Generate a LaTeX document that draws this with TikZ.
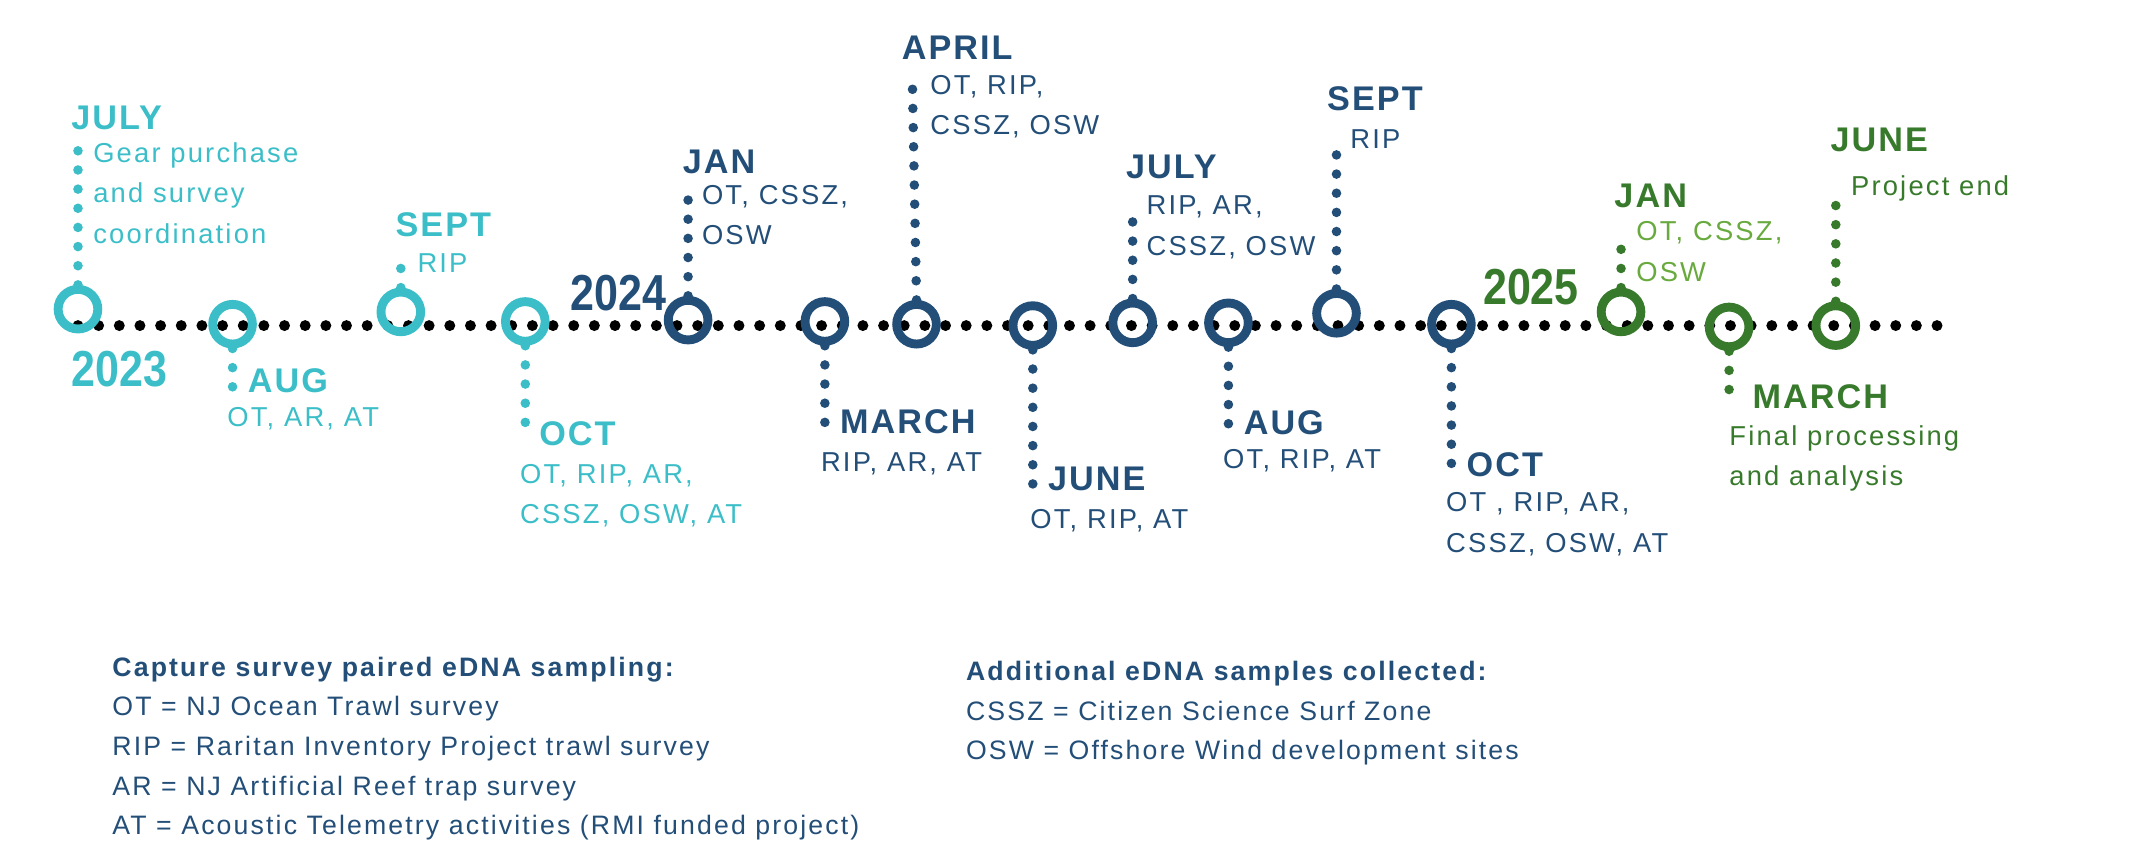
\documentclass[tikz,border=0pt]{standalone}
\usepackage{fontspec}
\setmainfont{Liberation Sans}
\newfontfamily\spaced[LetterSpace=6]{Liberation Sans}
\newfontfamily\wide[LetterSpace=8]{Liberation Sans}
\definecolor{teal23}{RGB}{59,190,200}
\definecolor{navy24}{RGB}{35,78,120}
\definecolor{green25}{RGB}{56,122,44}
\definecolor{lgreen25}{RGB}{104,170,62}
\tikzset{
  ring/.style={circle,draw=#1,line width=6.5pt,minimum size=29pt,inner sep=0pt},
  stem/.style={draw=#1,line width=7pt,line cap=round,dash pattern=on 0pt off 14pt},
  month/.style={anchor=west,inner sep=0pt,text=#1,font=\spaced\fontsize{25}{25}\selectfont\bfseries},
  items/.style={anchor=west,inner sep=0pt,text=#1,font=\wide\fontsize{20}{29.5}\selectfont,align=left},
  year/.style={inner sep=0pt,text=#1,font=\fontsize{37}{37}\selectfont\bfseries,xscale=0.85},
  legend/.style={anchor=north west,inner sep=0pt,text=navy24,font=\wide\fontsize{19.5}{29}\selectfont,align=left}
}
\begin{document}
\begin{tikzpicture}[x=1pt,y=-1pt]
\useasboundingbox (0,0) rectangle (1560,632);
% main time line
\coordinate (start) at (57,238);
\coordinate (stop) at (1420,238);
\draw [line width=8pt,line cap=round,dash pattern=on 0pt off 15.1pt] (start) -- (stop);
% 2023
\node [ring=teal23] (jul23) at (57,226) {};
\node [ring=teal23] (aug23) at (170,237) {};
\node [ring=teal23] (sep23) at (293,228) {};
\node [ring=teal23] (oct23) at (384,235) {};
\coordinate (jul23t) at (57,106);
\coordinate (aug23b) at (170,292);
\coordinate (sep23t) at (293,189);
\coordinate (oct23b) at (384,320);
\draw [stem=teal23] (jul23.north) -- (jul23t);
\draw [stem=teal23] (aug23.south) -- (aug23b);
\draw [stem=teal23] (sep23.north) -- (sep23t);
\draw [stem=teal23] (oct23.south) -- (oct23b);
\node [month=teal23] (jul23m) at (52,86) {JULY};
\node [items=teal23,anchor=north west] (jul23i) at (68,104) {Gear purchase\\and survey\\coordination};
\node [month=teal23] (aug23m) at (181,278) {AUG};
\node [items=teal23] (aug23i) at (166,306) {OT, AR, AT};
\node [month=teal23] (sep23m) at (289,164) {SEPT};
\node [items=teal23] (sep23i) at (305,192) {RIP};
\node [month=teal23] (oct23m) at (394,317) {OCT};
\node [items=teal23,anchor=north west] (oct23i) at (380,339) {OT, RIP, AR,\\CSSZ, OSW, AT};
\node [year=teal23,anchor=west] (y23) at (52,270) {2023};
% 2024
\node [ring=navy24] (jan24) at (503,234) {};
\node [ring=navy24] (mar24) at (603,235) {};
\node [ring=navy24] (apr24) at (670,237) {};
\node [ring=navy24] (jun24) at (755,238) {};
\node [ring=navy24] (jul24) at (828,236) {};
\node [ring=navy24] (aug24) at (898,236) {};
\node [ring=navy24] (sep24) at (977,229) {};
\node [ring=navy24] (oct24) at (1061,237) {};
\coordinate (jan24t) at (503,145);
\coordinate (mar24b) at (603,318);
\coordinate (apr24t) at (667,62);
\coordinate (jun24b) at (755,358);
\coordinate (jul24t) at (828,152);
\coordinate (aug24b) at (898,316);
\coordinate (sep24t) at (977,102);
\coordinate (oct24b) at (1061,345);
\draw [stem=navy24] (jan24.north) -- (jan24t);
\draw [stem=navy24] (mar24.south) -- (mar24b);
\draw [stem=navy24] (apr24.north) -- (apr24t);
\draw [stem=navy24] (jun24.south) -- (jun24b);
\draw [stem=navy24] (jul24.north) -- (jul24t);
\draw [stem=navy24] (aug24.south) -- (aug24b);
\draw [stem=navy24] (sep24.north) -- (sep24t);
\draw [stem=navy24] (oct24.south) -- (oct24b);
\node [month=navy24] (jan24m) at (499,118) {JAN};
\node [items=navy24,anchor=north west] (jan24i) at (513,135) {OT, CSSZ,\\OSW};
\node [month=navy24] (mar24m) at (614,308) {MARCH};
\node [items=navy24] (mar24i) at (600,339) {RIP, AR, AT};
\node [month=navy24] (apr24m) at (659,35) {APRIL};
\node [items=navy24,anchor=north west] (apr24i) at (680,55) {OT, RIP,\\CSSZ, OSW};
\node [month=navy24] (jun24m) at (766,350) {JUNE};
\node [items=navy24] (jun24i) at (753,381) {OT, RIP, AT};
\node [month=navy24] (jul24m) at (823,122) {JULY};
\node [items=navy24,anchor=north west] (jul24i) at (838,143) {RIP, AR,\\CSSZ, OSW};
\node [month=navy24] (aug24m) at (909,309) {AUG};
\node [items=navy24] (aug24i) at (894,337) {OT, RIP, AT};
\node [month=navy24] (sep24m) at (970,72) {SEPT};
\node [items=navy24] (sep24i) at (987,102) {RIP};
\node [month=navy24] (oct24m) at (1072,340) {OCT};
\node [items=navy24,anchor=north west] (oct24i) at (1057,360) {OT , RIP, AR,\\CSSZ, OSW, AT};
\node [year=navy24,anchor=west] (y24) at (417,214) {2024};
% 2025
\node [ring=green25] (jan25) at (1185,228) {};
\node [ring=green25] (mar25) at (1264,239) {};
\node [ring=green25] (jun25) at (1342,238) {};
\coordinate (jan25t) at (1185,172);
\coordinate (mar25b) at (1264,298);
\coordinate (jun25t) at (1342,138);
\draw [stem=green25] (jan25.north) -- (jan25t);
\draw [stem=green25] (mar25.south) -- (mar25b);
\draw [stem=green25] (jun25.north) -- (jun25t);
\node [month=green25] (jan25m) at (1180,143) {JAN};
\node [items=lgreen25,anchor=north west] (jan25i) at (1196,162) {OT, CSSZ,\\OSW};
\node [month=green25] (mar25m) at (1281,290) {MARCH};
\node [items=green25,anchor=north west] (mar25i) at (1264,311) {Final processing\\and analysis};
\node [month=green25] (jun25m) at (1338,102) {JUNE};
\node [items=green25] (jun25i) at (1353,138) {Project end};
\node [year=green25,anchor=west] (y25) at (1084,210) {2025};
% legend
\node [legend] (capture) at (82,480) {\textbf{Capture survey paired eDNA sampling:}\\OT = NJ Ocean Trawl survey\\RIP = Raritan Inventory Project trawl survey\\AR = NJ Artificial Reef trap survey\\AT = Acoustic Telemetry activities (RMI funded project)};
\node [legend] (extra) at (706,483) {\textbf{Additional eDNA samples collected:}\\CSSZ = Citizen Science Surf Zone\\OSW = Offshore Wind development sites};
\end{tikzpicture}
\end{document}
